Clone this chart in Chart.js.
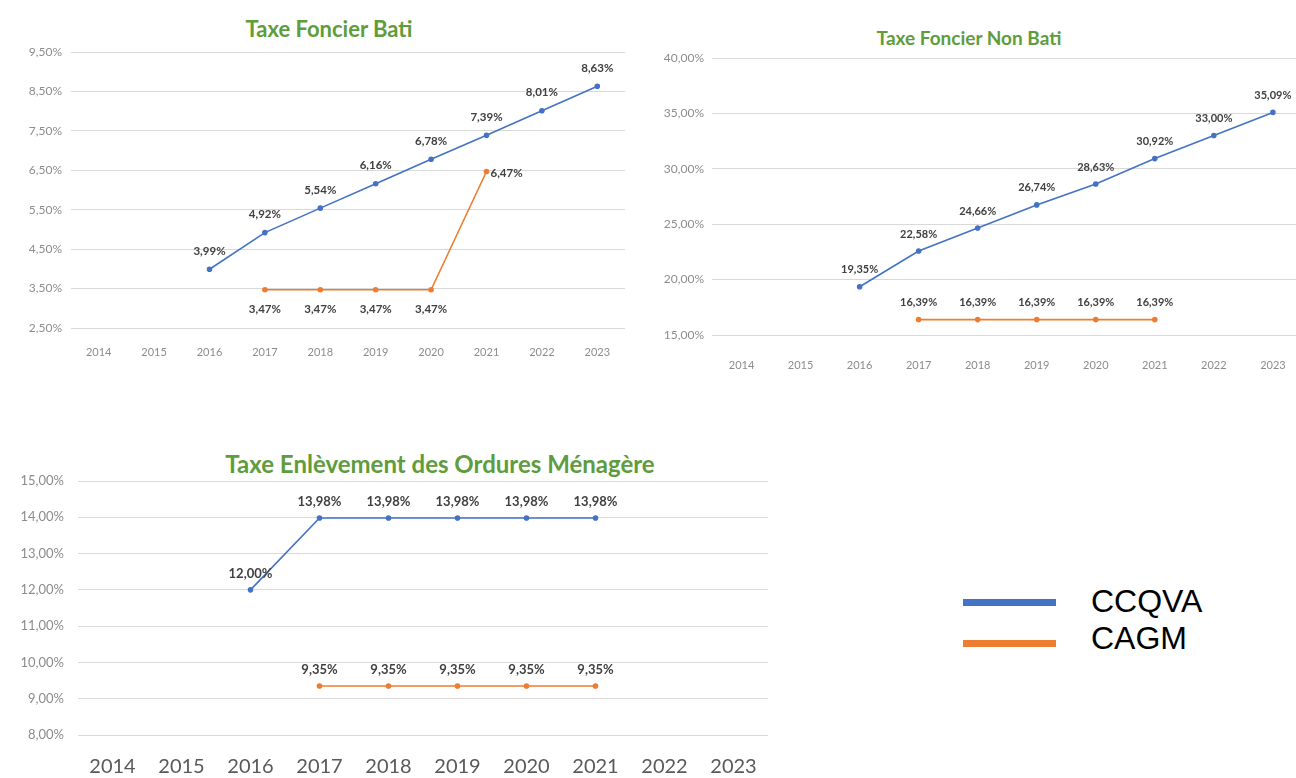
<!DOCTYPE html>
<html>
<head>
    <meta charset="utf-8">
    <title>Taux des taxes CCQVA / CAGM</title>
    <script src="https://cdn.jsdelivr.net/npm/chart.js"></script>
    <style>
        body {
            margin: 0;
            width: 1296px;
            height: 778px;
            overflow: hidden;
            background: #fff;
            position: relative;
            font-family: Lato, "Open Sans", sans-serif;
        }
        .panel { position: absolute; }
        .titre {
            position: absolute;
            color: #5e9c3c;
            font-weight: bold;
            white-space: nowrap;
            transform: translate(-50%, -50%);
        }
        .legende-trait { position: absolute; width: 93px; height: 7px; left: 963px; }
        .legende-texte {
            position: absolute;
            left: 1091px;
            font-family: "Liberation Sans", Arial, sans-serif;
            font-size: 32px;
            color: #000;
            transform: translateY(-50%);
        }
    </style>
</head>
<body>
    <div class="titre" style="left:329px; top:28px; font-size:22px;">Taxe Foncier Bati</div>
    <div class="titre" style="left:969px; top:37px; font-size:19px;">Taxe Foncier Non Bati</div>
    <div class="titre" style="left:440px; top:463px; font-size:24px;">Taxe Enlèvement des Ordures Ménagère</div>

    <div class="panel" style="left:0; top:0; width:645px; height:375px;"><canvas id="chartBati"></canvas></div>
    <div class="panel" style="left:650px; top:0; width:660px; height:390px;"><canvas id="chartNonBati"></canvas></div>
    <div class="panel" style="left:0; top:440px; width:780px; height:338px;"><canvas id="chartTeom"></canvas></div>

    <!-- légende commune -->
    <div class="legende-trait" style="top:599px; background:#4472C4;"></div>
    <div class="legende-texte" style="top:601px;">CCQVA</div>
    <div class="legende-trait" style="top:640px; background:#ED7D31;"></div>
    <div class="legende-texte" style="top:638px;">CAGM</div>

    <script>
        // Données
        const annees = ['2014', '2015', '2016', '2017', '2018', '2019', '2020', '2021', '2022', '2023'];

        const batiCCQVA = [null, null, 3.99, 4.92, 5.54, 6.16, 6.78, 7.39, 8.01, 8.63];
        const batiCAGM = [null, null, null, 3.47, 3.47, 3.47, 3.47, 6.47, null, null];

        const nonBatiCCQVA = [null, null, 19.35, 22.58, 24.66, 26.74, 28.63, 30.92, 33.00, 35.09];
        const nonBatiCAGM = [null, null, null, 16.39, 16.39, 16.39, 16.39, 16.39, null, null];

        const teomCCQVA = [null, null, 12.00, 13.98, 13.98, 13.98, 13.98, 13.98, null, null];
        const teomCAGM = [null, null, null, 9.35, 9.35, 9.35, 9.35, 9.35, null, null];

        const bleu = '#4472C4';
        const orange = '#ED7D31';

        // format français : 3,99%
        function pct(v) {
            return v.toFixed(2).replace('.', ',') + '%';
        }

        // petites étiquettes de valeur au-dessus / en dessous des points
        const etiquettes = {
            id: 'etiquettes',
            afterDatasetsDraw(chart) {
                const o = chart.options.etiq;
                const ctx = chart.ctx;
                ctx.save();
                ctx.font = 'bold ' + o.size + 'px Lato, sans-serif';
                ctx.fillStyle = '#404040';
                ctx.textBaseline = 'middle';
                chart.data.datasets.forEach((ds, i) => {
                    const meta = chart.getDatasetMeta(i);
                    meta.data.forEach((pt, j) => {
                        const v = ds.data[j];
                        if (v === null || v === undefined) return;
                        const pos = ds.labelPos(j);
                        if (pos === 'right') {
                            ctx.textAlign = 'left';
                            ctx.fillText(pct(v), pt.x + 4, pt.y + 2);
                        } else if (pos === 'bottom') {
                            ctx.textAlign = 'center';
                            ctx.fillText(pct(v), pt.x, pt.y + o.gapBas);
                        } else {
                            ctx.textAlign = 'center';
                            ctx.fillText(pct(v), pt.x, pt.y - o.gapHaut);
                        }
                    });
                });
                ctx.restore();
            }
        };

        function serie(label, data, couleur, labelPos) {
            return {
                label: label,
                data: data,
                borderColor: couleur,
                backgroundColor: couleur,
                borderWidth: 1.6,
                pointRadius: 2,
                pointHoverRadius: 3,
                tension: 0,
                spanGaps: false,
                labelPos: labelPos
            };
        }

        function creerGraphique(id, c) {
            return new Chart(document.getElementById(id), {
                type: 'line',
                data: {
                    labels: annees,
                    datasets: [
                        serie('CCQVA', c.ccqva, bleu, c.posBleu),
                        serie('CAGM', c.cagm, orange, c.posOrange)
                    ]
                },
                options: {
                    responsive: true,
                    maintainAspectRatio: false,
                    animation: false,
                    layout: { padding: c.padding },
                    etiq: c.etiq,
                    plugins: {
                        legend: { display: false },
                        title: { display: false },
                        tooltip: { enabled: false }
                    },
                    scales: {
                        x: {
                            offset: true,
                            grid: { display: false, drawTicks: false },
                            border: { display: false },
                            ticks: {
                                color: c.xColor,
                                font: { family: 'Lato', size: c.xSize },
                                padding: c.xPad,
                                maxRotation: 0,
                                autoSkip: false
                            },
                            afterFit(s) { s.height = c.xHeight; }
                        },
                        y: {
                            min: c.min,
                            max: c.max,
                            grid: { color: '#d9d9d9', drawTicks: false },
                            border: { display: false },
                            ticks: {
                                stepSize: c.step,
                                color: '#8c8c8c',
                                font: { family: 'Lato', size: c.ySize },
                                padding: c.yPad,
                                callback: v => pct(v)
                            },
                            afterFit(s) { s.width = c.yWidth; }
                        }
                    }
                },
                plugins: [etiquettes]
            });
        }

        creerGraphique('chartBati', {
            ccqva: batiCCQVA, cagm: batiCAGM,
            posBleu: () => 'top',
            posOrange: j => (j === 7 ? 'right' : 'bottom'),
            min: 2.5, max: 9.5, step: 1,
            padding: { top: 52, right: 20, bottom: 7, left: 0 },
            yWidth: 71, yPad: 9, ySize: 12,
            xHeight: 40, xPad: 18, xSize: 11, xColor: '#8c8c8c',
            etiq: { size: 11.5, gapHaut: 18, gapBas: 20 }
        });

        creerGraphique('chartNonBati', {
            ccqva: nonBatiCCQVA, cagm: nonBatiCAGM,
            posBleu: () => 'top',
            posOrange: () => 'top',
            min: 15, max: 40, step: 5,
            padding: { top: 58, right: 7, bottom: 10, left: 0 },
            yWidth: 62, yPad: 8, ySize: 12,
            xHeight: 45, xPad: 24, xSize: 11, xColor: '#8c8c8c',
            etiq: { size: 11, gapHaut: 17, gapBas: 18 }
        });

        creerGraphique('chartTeom', {
            ccqva: teomCCQVA, cagm: teomCAGM,
            posBleu: () => 'top',
            posOrange: () => 'top',
            min: 8, max: 15, step: 1,
            padding: { top: 41, right: 12, bottom: 3, left: 0 },
            yWidth: 78, yPad: 14, ySize: 13,
            xHeight: 40, xPad: 20, xSize: 20, xColor: '#595959',
            etiq: { size: 13, gapHaut: 16, gapBas: 18 }
        });
    </script>
</body>
</html>
